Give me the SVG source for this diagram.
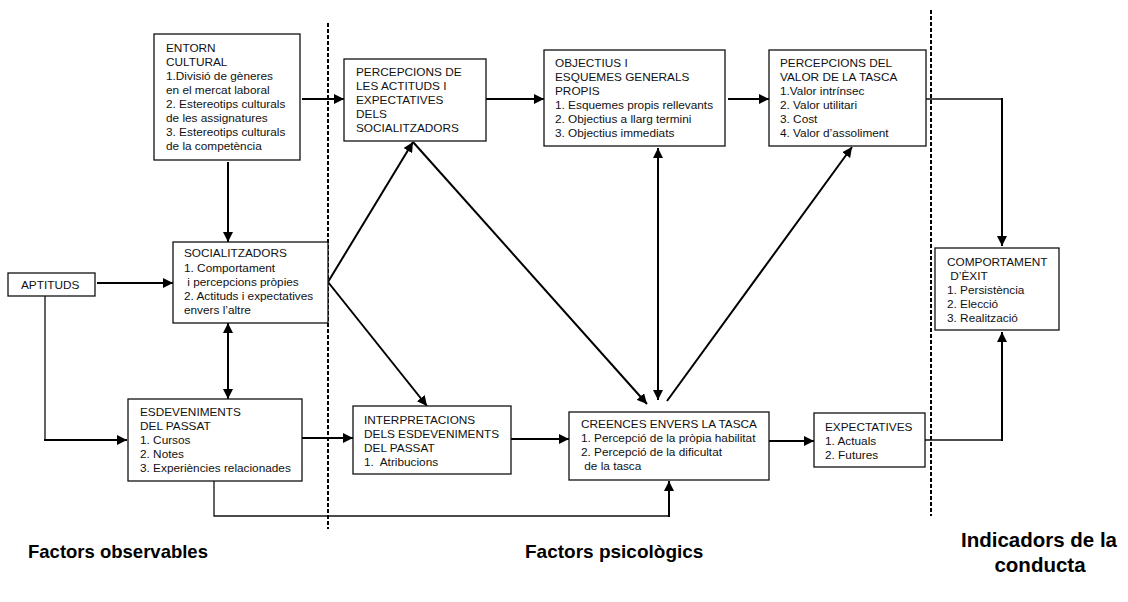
<svg xmlns="http://www.w3.org/2000/svg" width="1128" height="602" viewBox="0 0 1128 602">
<style>
.bx{fill:#fff;stroke:#111;stroke-width:1.3}
.t{font-family:"Liberation Sans",Arial,sans-serif;font-size:11.8px;fill:#111}
.lb{font-family:"Liberation Sans",Arial,sans-serif;font-weight:bold;fill:#000}
.c{fill:none;stroke:#000;stroke-width:2}
.thin{fill:none;stroke:#111;stroke-width:1.3}
.dash{fill:none;stroke:#000;stroke-width:2;stroke-dasharray:4 2}
</style>
<defs>
<marker id="ah" markerUnits="userSpaceOnUse" markerWidth="12" markerHeight="10" refX="10" refY="5" orient="auto">
<path d="M0,0 L10,5 L0,10 Z" fill="#000"/>
</marker>
<marker id="as" markerUnits="userSpaceOnUse" markerWidth="12" markerHeight="10" refX="0" refY="5" orient="auto">
<path d="M10,0 L0,5 L10,10 Z" fill="#000"/>
</marker>
</defs>
<rect width="1128" height="602" fill="#fff"/>
<g id="dividers">
<line class="dash" x1="328" y1="23" x2="328" y2="529"/>
<line class="dash" x1="931" y1="10" x2="931" y2="516"/>
</g>
<g id="connectors">
<line class="c" x1="228" y1="162" x2="228" y2="242" marker-end="url(#ah)"/>
<line class="c" x1="302" y1="99" x2="344" y2="99" marker-end="url(#ah)"/>
<line class="c" x1="486" y1="99" x2="544" y2="99" marker-end="url(#ah)"/>
<line class="c" x1="728" y1="99" x2="769" y2="99" marker-end="url(#ah)"/>
<line class="thin" x1="926" y1="99" x2="1002" y2="99"/>
<line class="c" x1="1002" y1="98" x2="1002" y2="246" marker-end="url(#ah)"/>
<line class="thin" x1="925" y1="440" x2="1002" y2="440"/>
<line class="c" x1="1002" y1="441" x2="1002" y2="332" marker-end="url(#ah)"/>
<line class="c" x1="97" y1="283" x2="173" y2="283" marker-end="url(#ah)"/>
<polyline class="thin" points="45,296 45,440 60,440"/>
<line class="c" x1="44" y1="440" x2="127" y2="440" marker-end="url(#ah)"/>
<line class="c" x1="228" y1="323" x2="228" y2="399" marker-start="url(#as)" marker-end="url(#ah)"/>
<line class="c" x1="328" y1="282" x2="413" y2="142" marker-end="url(#ah)"/>
<line class="c" x1="328" y1="282" x2="427" y2="406" marker-end="url(#ah)"/>
<line class="c" x1="413" y1="142" x2="647" y2="404" marker-end="url(#ah)"/>
<line class="c" x1="658" y1="148" x2="658" y2="400" marker-start="url(#as)" marker-end="url(#ah)"/>
<line class="c" x1="667" y1="401" x2="852" y2="147" marker-end="url(#ah)"/>
<line class="c" x1="302" y1="438" x2="353" y2="438" marker-end="url(#ah)"/>
<line class="c" x1="511" y1="439" x2="569" y2="439" marker-end="url(#ah)"/>
<polyline class="thin" points="214,481 214,516 669,516"/>
<line class="c" x1="669" y1="517" x2="669" y2="481" marker-end="url(#ah)"/>
<line class="c" x1="769" y1="441" x2="814" y2="441" marker-end="url(#ah)"/>
</g>
<g id="entorn">
<rect class="bx" x="154" y="34" width="146" height="126"/>
<text class="t" x="166" y="52">ENTORN</text>
<text class="t" x="166" y="66">CULTURAL</text>
<text class="t" x="166" y="80">1.Divisió de gèneres</text>
<text class="t" x="166" y="94">en el mercat laboral</text>
<text class="t" x="166" y="108">2. Estereotips culturals</text>
<text class="t" x="166" y="122">de les assignatures</text>
<text class="t" x="166" y="136">3. Estereotips culturals</text>
<text class="t" x="166" y="150">de la competència</text>
</g>
<g id="percepcions-actituds">
<rect class="bx" x="344" y="59" width="142" height="82"/>
<text class="t" x="356" y="76">PERCEPCIONS DE</text>
<text class="t" x="356" y="90">LES ACTITUDS I</text>
<text class="t" x="356" y="104">EXPECTATIVES</text>
<text class="t" x="356" y="118">DELS</text>
<text class="t" x="356" y="132">SOCIALITZADORS</text>
</g>
<g id="objectius">
<rect class="bx" x="544" y="50" width="181" height="96"/>
<text class="t" x="555" y="67">OBJECTIUS I</text>
<text class="t" x="555" y="81">ESQUEMES GENERALS</text>
<text class="t" x="555" y="95">PROPIS</text>
<text class="t" x="555" y="109">1. Esquemes propis rellevants</text>
<text class="t" x="555" y="123">2. Objectius a llarg termini</text>
<text class="t" x="555" y="137">3. Objectius immediats</text>
</g>
<g id="valor">
<rect class="bx" x="769" y="50" width="157" height="96"/>
<text class="t" x="780" y="67">PERCEPCIONS DEL</text>
<text class="t" x="780" y="81">VALOR DE LA TASCA</text>
<text class="t" x="780" y="95">1.Valor intrínsec</text>
<text class="t" x="780" y="109">2. Valor utilitari</text>
<text class="t" x="780" y="123">3. Cost</text>
<text class="t" x="780" y="137">4. Valor d’assoliment</text>
</g>
<g id="aptituds">
<rect class="bx" x="8" y="273" width="87" height="23"/>
<text class="t" x="21" y="289">APTITUDS</text>
</g>
<g id="socialitzadors">
<rect class="bx" x="173" y="242" width="155" height="81"/>
<text class="t" x="184" y="257">SOCIALITZADORS</text>
<text class="t" x="184" y="272">1. Comportament</text>
<text class="t" x="184" y="286" xml:space="preserve"> i percepcions pròpies</text>
<text class="t" x="184" y="300">2. Actituds i expectatives</text>
<text class="t" x="184" y="314">envers l’altre</text>
</g>
<g id="comportament">
<rect class="bx" x="935" y="248" width="124" height="82"/>
<text class="t" x="947" y="266">COMPORTAMENT</text>
<text class="t" x="947" y="280" xml:space="preserve"> D’ÈXIT</text>
<text class="t" x="947" y="294">1. Persistència</text>
<text class="t" x="947" y="308">2. Elecció</text>
<text class="t" x="947" y="322">3. Realització</text>
</g>
<g id="esdeveniments">
<rect class="bx" x="128" y="399" width="174" height="82"/>
<text class="t" x="140" y="416">ESDEVENIMENTS</text>
<text class="t" x="140" y="430">DEL PASSAT</text>
<text class="t" x="140" y="444">1. Cursos</text>
<text class="t" x="140" y="458">2. Notes</text>
<text class="t" x="140" y="472">3. Experiències relacionades</text>
</g>
<g id="interpretacions">
<rect class="bx" x="353" y="406" width="158" height="68"/>
<text class="t" x="364" y="424">INTERPRETACIONS</text>
<text class="t" x="364" y="438">DELS ESDEVENIMENTS</text>
<text class="t" x="364" y="452">DEL PASSAT</text>
<text class="t" x="364" y="466" xml:space="preserve">1.  Atribucions</text>
</g>
<g id="creences">
<rect class="bx" x="569" y="412" width="200" height="68"/>
<text class="t" x="581" y="428">CREENCES ENVERS LA TASCA</text>
<text class="t" x="581" y="442">1. Percepció de la pròpia habilitat</text>
<text class="t" x="581" y="456">2. Percepció de la dificultat</text>
<text class="t" x="581" y="470" xml:space="preserve"> de la tasca</text>
</g>
<g id="expectatives">
<rect class="bx" x="814" y="413" width="111" height="54"/>
<text class="t" x="825" y="431">EXPECTATIVES</text>
<text class="t" x="825" y="445">1. Actuals</text>
<text class="t" x="825" y="459">2. Futures</text>
</g>
<g id="labels">
<text class="lb" x="28" y="558" font-size="18.5">Factors observables</text>
<text class="lb" x="525" y="558" font-size="19">Factors psicològics</text>
<text class="lb" x="1039" y="547" font-size="20.5" text-anchor="middle">Indicadors de la</text>
<text class="lb" x="1040" y="572" font-size="20.5" text-anchor="middle">conducta</text>
</g>
</svg>
